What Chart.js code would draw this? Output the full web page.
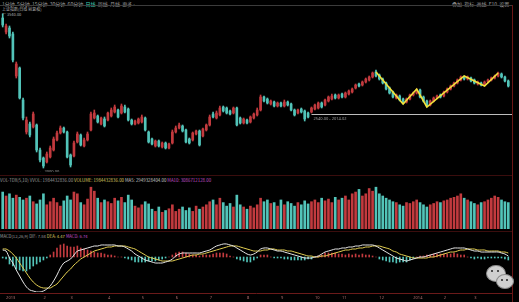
<!DOCTYPE html>
<html>
<head>
<meta charset="utf-8">
<script src="https://cdn.jsdelivr.net/npm/chart.js@4.4.1/dist/chart.umd.min.js"></script>
<style>
body { margin: 0; background: #000; width: 519px; height: 302px; overflow: hidden; position: relative; font-family: "Noto Sans CJK SC", "Noto Sans", sans-serif; }
canvas { position: absolute; left: 0; }
.txt { position: absolute; white-space: nowrap; color: #9c9c9c; line-height: 1; }
.hline { position: absolute; left: 0; width: 512px; height: 1px; background: #3a0d0d; }
.vline { position: absolute; top: 5px; left: 512px; width: 1px; height: 297px; background: #6a1616; }
.bub { position: absolute; border-radius: 50%; background: #cfcfcf; border: 1px solid #8a8a8a; }
.eye { position: absolute; width: 2px; height: 2px; border-radius: 50%; background: #222; }
</style>
</head>
<body>

<div class="txt" style="left:2px;top:1px;font-size:5px;">1分钟&nbsp; 5分钟&nbsp; 15分钟&nbsp; 30分钟&nbsp; 60分钟&nbsp; <span style="color:#3fd0b8">日线</span>&nbsp; 周线&nbsp; 月线&nbsp; 更多 ›</div>
<div class="txt" style="left:452px;top:1px;font-size:5px;">叠加&nbsp; 指标&nbsp; 画线&nbsp; F10&nbsp; 设置</div>
<div class="hline" style="top:5px;background:#3c3c3c;"></div>
<div class="txt" style="left:2px;top:7px;font-size:4px;color:#b0b0b0;">上证指数(日线 前复权)</div>
<div class="txt" style="left:2px;top:12px;font-size:4px;color:#b0b0b0;">← 3540.00</div>

<canvas id="priceChart" width="519" height="166" style="top:6px;"></canvas>

<div class="hline" style="top:175px;"></div>
<div class="txt" style="left:0px;top:178px;font-size:4.4px;">VOL-TDX(5,10) VVOL: 1984432836.00 <span style="color:#d8c860">VOLUME: 1984432836.00</span> <span style="color:#c8c8c8">MA5: 2949328404.00</span> <span style="color:#c050c8">MA10: 3086712128.00</span></div>
<canvas id="volumeChart" width="519" height="44" style="top:185px;"></canvas>

<div class="hline" style="top:231px;"></div>
<div class="txt" style="left:0px;top:234px;font-size:4.2px;">MACD(12,26,9) DIF: 7.84 <span style="color:#d8c860">DEA: 4.47</span> <span style="color:#c050c8">MACD: 6.74</span></div>
<canvas id="macdChart" width="519" height="62" style="top:240px;"></canvas>

<div class="vline"></div>

<div class="bub" style="left:486px;top:265px;width:18px;height:15px;"></div>
<div class="bub" style="left:496px;top:274px;width:16px;height:13px;"></div>
<div class="eye" style="left:491px;top:270px;"></div>
<div class="eye" style="left:497px;top:270px;"></div>
<div class="eye" style="left:501px;top:279px;"></div>
<div class="eye" style="left:506px;top:279px;"></div>

<script>
// daily candles
var opens = [
    3500, 3360, 3400, 3340, 2920, 3000, 2680, 2360, 2440, 2410,
    2430, 2180, 2100, 2060, 2110, 2180, 2280, 2350, 2400, 2360,
    2130, 2120, 2260, 2330, 2220, 2280, 2380, 2500, 2520, 2440,
    2490, 2480, 2520, 2560, 2580, 2550, 2610, 2590, 2480, 2440,
    2450, 2460, 2500, 2360, 2290, 2220, 2270, 2210, 2250, 2200,
    2250, 2360, 2400, 2420, 2380, 2290, 2280, 2340, 2370, 2320,
    2380, 2430, 2540, 2500, 2530, 2610, 2600, 2570, 2550, 2600,
    2500, 2450, 2480, 2460, 2500, 2530, 2580, 2710, 2690, 2640,
    2660, 2620, 2650, 2620, 2660, 2640, 2580, 2550, 2590, 2570,
    2550, 2560, 2590, 2600, 2650, 2630, 2670, 2690, 2730, 2700,
    2740, 2710, 2740, 2760, 2800, 2840, 2830, 2860, 2880, 2910,
    2960, 2930, 2890, 2850, 2800, 2760, 2700, 2720, 2690, 2660,
    2690, 2730, 2750, 2780, 2710, 2670, 2630, 2670, 2700, 2730,
    2720, 2760, 2790, 2820, 2850, 2880, 2910, 2890, 2900, 2880,
    2840, 2850, 2830, 2860, 2880, 2900, 2920, 2940, 2910, 2870
];
var closes = [
    3430, 3420, 3320, 3080, 3040, 2700, 2500, 2480, 2330, 2540,
    2180, 2080, 2020, 2140, 2200, 2290, 2350, 2400, 2360, 2110,
    2030, 2250, 2340, 2230, 2280, 2340, 2540, 2550, 2460, 2500,
    2420, 2550, 2580, 2610, 2510, 2620, 2560, 2480, 2440, 2470,
    2490, 2510, 2380, 2260, 2240, 2270, 2220, 2250, 2200, 2240,
    2360, 2400, 2430, 2370, 2260, 2250, 2350, 2370, 2230, 2390,
    2430, 2510, 2510, 2550, 2600, 2570, 2550, 2540, 2600, 2430,
    2450, 2490, 2450, 2510, 2540, 2580, 2710, 2670, 2650, 2670,
    2620, 2650, 2620, 2660, 2630, 2580, 2530, 2580, 2560, 2490,
    2510, 2600, 2630, 2650, 2610, 2680, 2710, 2720, 2700, 2730,
    2710, 2750, 2770, 2790, 2830, 2820, 2860, 2890, 2910, 2950,
    2920, 2890, 2850, 2790, 2750, 2710, 2730, 2680, 2650, 2690,
    2730, 2750, 2780, 2710, 2670, 2620, 2670, 2700, 2720, 2710,
    2760, 2790, 2820, 2850, 2880, 2910, 2890, 2910, 2870, 2850,
    2860, 2830, 2860, 2880, 2900, 2920, 2950, 2910, 2870, 2820
];
var highs = [
    3540, 3440, 3420, 3360, 3060, 3010, 2700, 2510, 2460, 2560,
    2440, 2200, 2110, 2160, 2220, 2310, 2370, 2420, 2410, 2370,
    2140, 2270, 2360, 2340, 2300, 2360, 2560, 2580, 2530, 2510,
    2510, 2560, 2600, 2630, 2590, 2640, 2630, 2600, 2490, 2480,
    2500, 2530, 2510, 2370, 2300, 2280, 2280, 2260, 2260, 2250,
    2380, 2420, 2450, 2430, 2390, 2300, 2360, 2380, 2380, 2400,
    2440, 2530, 2560, 2570, 2620, 2620, 2610, 2580, 2610, 2610,
    2510, 2500, 2490, 2520, 2550, 2600, 2730, 2720, 2700, 2680,
    2670, 2660, 2660, 2680, 2670, 2650, 2590, 2590, 2600, 2580,
    2560, 2610, 2640, 2660, 2660, 2690, 2720, 2740, 2740, 2740,
    2750, 2760, 2780, 2800, 2840, 2850, 2870, 2900, 2920, 2960,
    2980, 2940, 2900, 2860, 2810, 2770, 2740, 2730, 2700, 2700,
    2740, 2760, 2790, 2790, 2720, 2680, 2680, 2710, 2730, 2740,
    2770, 2800, 2830, 2860, 2890, 2920, 2920, 2920, 2910, 2890,
    2870, 2860, 2870, 2890, 2910, 2930, 2960, 2950, 2920, 2880
];
var lows = [
    3410, 3340, 3300, 3060, 2900, 2690, 2480, 2340, 2310, 2400,
    2160, 2060, 2000, 2050, 2100, 2170, 2270, 2340, 2350, 2100,
    2010, 2110, 2250, 2220, 2210, 2270, 2370, 2490, 2450, 2430,
    2410, 2470, 2510, 2550, 2500, 2540, 2550, 2470, 2430, 2430,
    2440, 2450, 2370, 2250, 2230, 2210, 2210, 2200, 2190, 2190,
    2240, 2350, 2390, 2360, 2250, 2240, 2270, 2330, 2220, 2310,
    2370, 2420, 2500, 2490, 2520, 2560, 2540, 2530, 2540, 2420,
    2440, 2440, 2440, 2450, 2490, 2520, 2570, 2660, 2640, 2630,
    2610, 2610, 2610, 2610, 2620, 2570, 2520, 2540, 2550, 2470,
    2500, 2550, 2580, 2590, 2600, 2620, 2660, 2680, 2690, 2690,
    2700, 2700, 2730, 2750, 2790, 2810, 2820, 2850, 2870, 2900,
    2910, 2880, 2840, 2780, 2740, 2700, 2690, 2670, 2640, 2650,
    2680, 2720, 2740, 2700, 2660, 2610, 2620, 2660, 2690, 2700,
    2710, 2750, 2780, 2810, 2840, 2870, 2880, 2880, 2860, 2840,
    2830, 2820, 2820, 2850, 2870, 2890, 2910, 2900, 2860, 2810
];

// volume, in % of the panel height
var volumes = [
    84, 75, 80, 70, 77, 72, 66, 70, 75, 62,
    57, 66, 80, 55, 62, 70, 60, 52, 64, 75,
    66, 84, 80, 60, 55, 68, 95, 86, 70, 60,
    66, 62, 58, 70, 64, 72, 60, 77, 66, 52,
    48, 55, 62, 57, 45, 40, 50, 38, 42, 46,
    55, 40, 45, 50, 42, 48, 40, 52, 45, 50,
    55, 62, 66, 55, 70, 60, 52, 58, 50, 77,
    55, 50, 45, 52, 48, 55, 70, 62, 66, 58,
    60, 52, 66, 55, 62, 58, 52, 60, 55, 64,
    57, 62, 66, 60, 70, 64, 68, 60, 72, 66,
    70, 75, 66, 80, 84, 90, 75, 80, 92, 86,
    95, 80, 75, 70, 66, 62, 60, 55, 52, 60,
    58, 62, 66, 60, 55, 50, 55, 58, 62, 60,
    64, 66, 70, 72, 75, 80, 70, 66, 62, 58,
    55, 60, 62, 66, 70, 75, 72, 66, 62, 60
];

// MACD lines and bars
var difValues = [
    7, 6, -1, -6, -13, -19, -25, -30, -33, -34,
    -35, -35, -34, -32, -29, -24, -18, -11, -6, -4,
    -2, 2, 6, 7, 8, 9, 10, 11, 11, 12,
    12, 12, 12, 12, 11, 11, 10, 8, 6, 3,
    1, -1, -3, -4, -5, -6, -6, -6, -5, -4,
    -2, 1, 3, 4, 4, 4, 4, 4, 4, 5,
    6, 7, 9, 11, 12, 13, 13, 12, 11, 9,
    7, 5, 3, 2, 3, 5, 8, 9, 9, 8,
    7, 6, 6, 5, 4, 3, 2, 1, 0, -1,
    -1, -1, 0, 1, 3, 5, 6, 7, 8, 8,
    9, 9, 10, 10, 11, 11, 12, 12, 12, 12,
    11, 9, 7, 5, 3, 1, -1, -2, -3, -4,
    -3, -2, -1, 0, 0, 1, 2, 3, 4, 5,
    6, 7, 8, 9, 9, 9, 9, 8, 7, 6,
    6, 5, 5, 5, 5, 5, 5, 4, 3, 1
];
var deaValues = [
    8, 8, 6, 3, -1, -6, -11, -16, -21, -25,
    -28, -30, -31, -31, -31, -29, -27, -23, -19, -15,
    -12, -8, -5, -2, 0, 2, 4, 6, 7, 8,
    9, 10, 10, 11, 11, 11, 11, 10, 9, 8,
    6, 4, 2, 0, -1, -2, -3, -4, -4, -4,
    -4, -3, -2, -1, 0, 1, 2, 2, 3, 3,
    4, 5, 6, 7, 8, 9, 10, 11, 11, 11,
    10, 9, 8, 7, 6, 6, 6, 7, 7, 8,
    8, 7, 7, 7, 6, 6, 5, 4, 3, 2,
    1, 1, 0, 0, 1, 1, 2, 3, 4, 5,
    6, 7, 7, 8, 8, 9, 9, 10, 10, 11,
    11, 11, 10, 9, 8, 6, 5, 3, 2, 1,
    0, -1, -1, -1, -1, -1, 0, 0, 1, 2,
    3, 4, 5, 5, 6, 7, 7, 8, 8, 8,
    7, 7, 7, 6, 6, 6, 6, 5, 5, 4
];
var macdBars = [
    -1, -2, -7, -9, -12, -13, -14, -14, -12, -9,
    -7, -5, -3, -1, 2, 5, 9, 12, 13, 11,
    10, 10, 11, 9, 8, 7, 6, 5, 4, 4,
    3, 2, 2, 1, 0, 0, -1, -2, -3, -5,
    -5, -5, -5, -4, -4, -4, -3, -2, -1, 0,
    2, 4, 5, 5, 4, 3, 2, 2, 1, 2,
    2, 2, 3, 4, 4, 4, 3, 1, 0, -2,
    -3, -4, -5, -5, -3, -1, 2, 2, 2, 0,
    -1, -1, -1, -2, -2, -3, -3, -3, -3, -3,
    -2, -2, 0, 1, 2, 4, 4, 4, 4, 3,
    3, 2, 3, 2, 3, 2, 3, 2, 2, 1,
    0, -2, -3, -4, -5, -5, -6, -5, -5, -5,
    -3, -1, 0, 1, 1, 2, 2, 3, 3, 3,
    3, 3, 3, 4, 3, 2, 2, 0, -1, -2,
    -1, -2, -2, -1, -1, -1, -1, -1, -2, -3
];

// yellow zig-zag pivots (candle index, price)
var zigIndex = [110, 118, 122, 125, 136, 142, 146];
var zigPrice = [2960, 2640, 2790, 2610, 2920, 2820, 2950];

// support line and bottom axis
var supportLevel = 2540;
var supportFrom = 91;
var supportText = '2540.00 - 2014.02';
var lowIndex = 12;
var lowText = '← 2000.00';
var monthIndex = [1, 12, 20, 31, 41, 51, 61, 72, 82, 92, 100, 111, 121, 130, 139];
var monthLabels = ['2013', '2', '3', '4', '5', '6', '7', '8', '9', '10', '11', '12', '2014', '2', '3'];

var upRed = '#c23a3e';
var downCyan = '#52c4b9';

var dayLabels = opens.map((o, i) => String(i));
var candleColors = opens.map((o, i) => closes[i] >= o ? upRed : downCyan);

var sharedPadding = { left: 1, right: 9, top: 0, bottom: 0 };

function hiddenScales(yMin, yMax) {
    return {
        x: { display: false },
        y: { display: false, min: yMin, max: yMax }
    };
}

// draws the support line and the low label on top of the candles
var priceMarks = {
    id: 'priceMarks',
    afterDatasetsDraw(chart) {
        const { ctx, chartArea } = chart;
        const x = chart.scales.x;
        const y = chart.scales.y;
        ctx.save();
        const sy = Math.round(y.getPixelForValue(supportLevel)) + 0.5;
        const sx = x.getPixelForValue(supportFrom);
        ctx.strokeStyle = '#bdbdbd';
        ctx.lineWidth = 1;
        ctx.beginPath();
        ctx.moveTo(sx, sy);
        ctx.lineTo(chartArea.right + 3, sy);
        ctx.stroke();
        ctx.font = '4px "Noto Sans"';
        ctx.fillStyle = '#a0a0a0';
        ctx.fillText(supportText, sx + 2, sy + 5);
        ctx.fillText(lowText, x.getPixelForValue(lowIndex) - 4, y.getPixelForValue(lows[lowIndex]) + 5);
        ctx.restore();
    }
};

// month band under the MACD panel
var monthAxis = {
    id: 'monthAxis',
    afterDraw(chart) {
        const { ctx, chartArea } = chart;
        const x = chart.scales.x;
        const by = chartArea.bottom + 1.5;
        ctx.save();
        ctx.strokeStyle = '#6a1a1a';
        ctx.beginPath();
        ctx.moveTo(0, by);
        ctx.lineTo(chartArea.right + 3, by);
        ctx.stroke();
        ctx.font = '4px "Noto Sans"';
        ctx.fillStyle = '#b07070';
        monthIndex.forEach((idx, k) => {
            ctx.fillText(monthLabels[k], x.getPixelForValue(idx), by + 5);
        });
        ctx.restore();
    }
};

function createPriceChart() {
    var zigLine = opens.map(() => null);
    zigIndex.forEach((idx, k) => { zigLine[idx] = zigPrice[k]; });

    new Chart(document.getElementById('priceChart'), {
        type: 'bar',
        data: {
            labels: dayLabels,
            datasets: [{
                type: 'line',
                data: zigLine,
                borderColor: '#f2e23a',
                borderWidth: 1.6,
                pointRadius: 0,
                spanGaps: true,
                order: 0
            }, {
                data: opens.map((o, i) => [lows[i], highs[i]]),
                backgroundColor: candleColors,
                barThickness: 1,
                grouped: false,
                order: 2
            }, {
                data: opens.map((o, i) => [o, closes[i]]),
                backgroundColor: candleColors,
                barThickness: 2,
                grouped: false,
                order: 1
            }]
        },
        options: {
            responsive: false,
            animation: false,
            layout: { padding: sharedPadding },
            plugins: { legend: { display: false }, tooltip: { enabled: false } },
            scales: hiddenScales(1960, 3620)
        },
        plugins: [priceMarks]
    });
}

function createVolumeChart() {
    new Chart(document.getElementById('volumeChart'), {
        type: 'bar',
        data: {
            labels: dayLabels,
            datasets: [{
                data: volumes,
                backgroundColor: candleColors,
                barThickness: 2
            }]
        },
        options: {
            responsive: false,
            animation: false,
            layout: { padding: sharedPadding },
            plugins: { legend: { display: false }, tooltip: { enabled: false } },
            scales: hiddenScales(0, 100)
        }
    });
}

function createMacdChart() {
    new Chart(document.getElementById('macdChart'), {
        type: 'bar',
        data: {
            labels: dayLabels,
            datasets: [{
                type: 'line',
                data: difValues,
                borderColor: '#e6e6e6',
                borderWidth: 1,
                pointRadius: 0,
                tension: 0.3
            }, {
                type: 'line',
                data: deaValues,
                borderColor: '#e3cf52',
                borderWidth: 1,
                pointRadius: 0,
                tension: 0.3
            }, {
                data: macdBars,
                backgroundColor: macdBars.map(v => v >= 0 ? upRed : downCyan),
                barThickness: 1
            }]
        },
        options: {
            responsive: false,
            animation: false,
            layout: { padding: { left: 1, right: 9, top: 0, bottom: 10 } },
            plugins: { legend: { display: false }, tooltip: { enabled: false } },
            scales: hiddenScales(-35, 17)
        },
        plugins: [monthAxis]
    });
}

createPriceChart();
createVolumeChart();
createMacdChart();
</script>
</body>
</html>
